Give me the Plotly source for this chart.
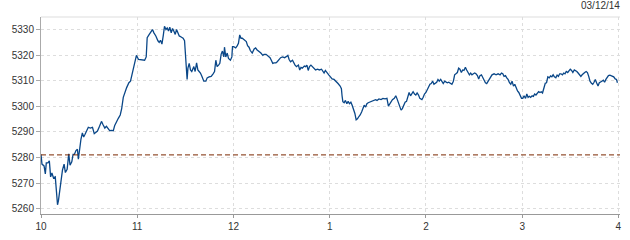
import plotly.graph_objects as go

# minutes after 10:00 and index level
minutes = [
    0, 0.6, 1.9, 2.7, 3.3, 4.3, 5.2, 6.0, 6.8, 7.8, 8.9, 9.7, 10.3, 10.9, 11.7, 12.6, 13.4, 14.4, 15.2, 16.3,
    17.3, 18.1, 19.2, 20.0, 20.8, 21.8, 22.7, 23.3, 24.1, 24.9, 25.8, 26.6, 27.4, 28.6, 29.5, 30.7, 32.1, 33.2,
    34.2, 35.2, 36.5, 37.7, 38.7, 39.8, 40.8, 41.8, 42.8, 43.9, 45.1, 45.9, 47.0, 48.2, 49.4, 50.3, 51.3, 52.3,
    53.4, 54.8, 55.8, 56.7, 57.9, 58.7, 59.5,
    60.8, 62.9, 64.6, 65.6, 66.2, 67.5, 68.7, 69.5, 70.4, 71.6, 72.9, 73.7, 74.5, 75.4, 76.2, 77.0, 77.9, 78.7,
    79.5, 80.3, 81.2, 82.0, 82.8, 83.7, 84.5, 85.3, 86.2, 87.4, 88.6, 89.5, 90.3, 91.1, 91.6, 92.4, 93.2, 94.0,
    95.3, 96.1, 97.0, 97.8, 98.6, 99.4, 100.3, 101.5, 102.8, 103.6, 104.8, 106.1, 107.3, 108.2, 109.0, 109.8,
    110.7, 111.5, 112.3, 113.1, 114.0, 114.4, 115.2, 116.1, 116.9, 118.1, 119.0, 119.4,
    120.2, 121.4, 122.3, 123.1, 123.9, 124.7, 125.5, 126.4, 127.2, 128.0, 128.8, 129.7, 130.5, 131.7, 132.9,
    133.8, 134.6, 135.8, 137.1, 138.3, 139.1, 140.3, 141.6, 142.8, 143.6, 144.5, 145.3, 146.5, 147.3, 148.6,
    149.4, 150.6, 151.9, 153.1, 153.9, 154.7, 155.6, 156.8, 157.6, 158.4, 159.3, 160.5, 161.3, 162.1, 162.9,
    164.2, 165.0, 165.8, 166.6, 167.4, 168.3, 169.1, 169.9, 171.2, 172.4, 173.6, 174.9, 175.7, 176.5, 177.3,
    178.6, 179.4,
    180.2, 181.5, 182.7, 184.0, 185.2, 186.5, 187.3, 187.7, 188.2, 189.0, 189.8, 190.7, 191.5, 192.3, 193.2,
    194.0, 194.8, 195.7, 196.5, 197.3, 198.2, 199.0, 199.9, 200.7, 201.5, 202.4, 203.2, 204.0, 204.9, 206.1,
    207.4, 208.6, 209.5, 210.7, 212.0, 213.2, 214.5, 215.7, 216.6, 217.4, 218.2, 219.1, 220.3, 221.2, 222.0,
    222.8, 223.7, 224.5, 225.3, 226.2, 227.0, 227.9, 228.7, 229.5, 230.4, 231.2, 232.0, 232.9, 233.7, 234.5,
    235.4, 236.2, 237.5, 238.3, 239.1, 240.0,
    240.8, 241.7, 242.5, 243.3, 244.2, 245.0, 245.8, 246.7, 247.5, 248.3, 249.2, 250.0, 250.8, 251.7, 252.5,
    253.3, 254.2, 255.4, 256.2, 257.1, 257.9, 258.7, 259.6, 260.4, 261.2, 262.1, 262.9, 263.7, 264.6, 265.4,
    266.2, 267.1, 267.9, 268.7, 269.6, 270.4, 271.2, 272.1, 272.9, 273.7, 274.6, 275.4, 276.2, 277.1, 277.9,
    278.7, 279.6, 280.4, 281.2, 282.5, 283.7, 285.0, 286.2, 287.1, 287.9, 288.7, 289.6, 290.4, 291.2, 292.1,
    292.9, 293.7, 294.6, 295.4, 296.2, 297.1, 297.9, 298.7, 299.6,
    300.4, 301.2, 302.1, 302.9, 303.7, 304.5, 305.3, 306.2, 307.0, 307.8, 308.6, 309.5, 310.3, 311.1, 311.9,
    312.7, 313.6, 314.4, 315.2, 316.0, 316.9, 317.7, 318.5, 319.3, 320.1, 321.0, 321.8, 322.6, 323.4, 324.2,
    325.1, 325.9, 326.7, 327.5, 328.4, 329.2, 330.0, 330.8, 331.6, 332.5, 333.3, 334.1, 334.9, 335.8, 336.6,
    337.4, 338.2, 339.0, 339.9, 340.7, 341.5, 342.3, 343.2, 344.0, 344.8, 345.6, 346.4, 347.3, 348.1, 348.9,
    349.7, 350.6, 351.4, 352.2, 353.0, 353.8, 354.7, 355.5, 356.3, 357.1, 358.0, 358.8, 359.4,
]

levels = [
    5281.2, 5277.4, 5276.7, 5273.6, 5277.9, 5277.9, 5278.7, 5272.4, 5273.9, 5272.0, 5272.4, 5265.1, 5261.5,
    5263.2, 5267.6, 5272.6, 5275.1, 5277.4, 5274.1, 5275.4, 5281.4, 5277.0, 5278.3, 5281.2, 5281.2, 5282.7,
    5283.2, 5279.3, 5284.0, 5287.1, 5289.6, 5288.0, 5289.0, 5290.5, 5291.8, 5291.5, 5291.8, 5289.3, 5290.0,
    5290.3, 5292.2, 5294.1, 5292.8, 5291.5, 5292.2, 5291.5, 5290.5, 5290.6, 5290.5, 5292.4, 5294.1, 5295.3,
    5296.6, 5299.1, 5303.5, 5305.4, 5307.3, 5309.2, 5309.8, 5312.3, 5316.1, 5318.0, 5319.9,
    5318.3, 5318.0, 5318.0, 5319.3, 5326.8, 5328.1, 5329.6, 5330.0, 5328.7, 5327.5, 5325.6, 5325.0, 5325.8,
    5324.3, 5327.5, 5331.3, 5330.0, 5330.6, 5329.4, 5330.9, 5328.7, 5330.4, 5329.4, 5328.1, 5330.0, 5328.7,
    5327.5, 5327.1, 5326.6, 5325.6, 5316.8, 5310.5, 5314.9, 5316.8, 5314.2, 5313.6, 5315.5, 5313.6, 5317.0,
    5314.2, 5313.6, 5313.0, 5311.7, 5309.8, 5309.8, 5311.1, 5311.5, 5311.7, 5312.7, 5313.6, 5318.0, 5315.5,
    5316.1, 5316.8, 5320.3, 5321.6, 5319.3, 5323.1, 5319.3, 5320.8, 5318.7, 5318.0, 5319.3, 5323.3,
    5323.3, 5322.8, 5323.6, 5324.6, 5327.9, 5326.6, 5326.6, 5326.1, 5325.8, 5325.3, 5323.7, 5323.1, 5321.8,
    5320.8, 5322.4, 5322.8, 5322.1, 5321.6, 5320.8, 5319.9, 5320.3, 5320.3, 5319.5, 5319.0, 5318.0, 5316.8,
    5317.0, 5317.0, 5317.4, 5318.3, 5319.0, 5319.3, 5319.0, 5319.5, 5319.9, 5318.3, 5317.4, 5318.0, 5316.8,
    5316.1, 5315.5, 5316.1, 5314.2, 5315.2, 5314.9, 5315.7, 5315.5, 5316.1, 5314.0, 5315.5, 5316.1, 5315.5,
    5314.9, 5314.2, 5314.5, 5314.2, 5314.5, 5313.6, 5313.0, 5314.0, 5313.2, 5312.3,
    5311.7, 5310.7, 5310.5, 5309.8, 5308.9, 5307.9, 5306.9, 5304.1, 5301.8, 5301.4, 5302.3, 5301.0, 5301.9,
    5301.0, 5301.6, 5300.4, 5299.1, 5297.2, 5294.7, 5295.1, 5296.0, 5296.6, 5297.8, 5299.1, 5300.4, 5299.7,
    5301.0, 5301.4, 5301.6, 5301.9, 5302.3, 5302.6, 5302.3, 5302.9, 5302.6, 5303.1, 5302.9, 5303.1, 5300.1,
    5301.0, 5301.9, 5302.6, 5303.1, 5304.1, 5302.9, 5301.6, 5299.4, 5298.5, 5299.1, 5300.4, 5301.6, 5301.9,
    5304.1, 5305.4, 5304.1, 5304.8, 5305.7, 5304.8, 5304.4, 5305.2, 5304.4, 5303.1, 5302.6, 5303.5, 5304.8,
    5305.4,
    5306.4, 5307.3, 5308.6, 5308.9, 5309.8, 5308.6, 5308.9, 5309.4, 5310.5, 5309.8, 5310.5, 5309.8, 5308.9,
    5309.8, 5309.4, 5309.2, 5309.4, 5308.9, 5308.6, 5309.8, 5312.3, 5312.7, 5313.2, 5314.9, 5314.5, 5313.2,
    5314.2, 5314.0, 5315.2, 5314.2, 5313.2, 5312.3, 5313.0, 5312.3, 5312.7, 5313.0, 5312.7, 5312.0, 5310.7,
    5312.0, 5312.3, 5311.1, 5309.8, 5309.2, 5308.9, 5309.8, 5310.7, 5311.7, 5312.3, 5312.7, 5312.3, 5312.7,
    5312.3, 5313.0, 5312.7, 5311.7, 5312.0, 5311.1, 5310.5, 5309.2, 5308.6, 5309.8, 5307.9, 5308.6, 5306.9,
    5306.0, 5305.4, 5304.4, 5303.1,
    5303.1, 5304.1, 5303.1, 5304.8, 5303.5, 5303.9, 5303.5, 5304.1, 5303.9, 5304.8, 5304.4, 5305.2, 5305.7,
    5305.4, 5305.7, 5305.2, 5307.3, 5309.0, 5309.2, 5311.5, 5311.1, 5311.9, 5311.5, 5312.3, 5311.5, 5311.1,
    5312.2, 5311.7, 5312.7, 5312.7, 5312.3, 5313.0, 5312.7, 5313.6, 5313.2, 5314.0, 5314.5, 5314.0, 5313.2,
    5314.2, 5314.0, 5313.6, 5313.0, 5312.3, 5311.7, 5312.3, 5313.0, 5313.2, 5313.6, 5313.2, 5311.7, 5309.8,
    5309.0, 5308.6, 5309.4, 5310.5, 5309.2, 5307.9, 5309.2, 5309.4, 5309.8, 5310.2, 5309.4, 5310.5, 5311.1,
    5312.0, 5312.2, 5312.0, 5311.7, 5311.5, 5310.7, 5310.5, 5309.2,
]

prev_close = 5281.0
hour_ticks = [0, 60, 120, 180, 240, 300, 360]
hour_labels = ["10", "11", "12", "1", "2", "3", "4"]
y_ticks = [5260, 5270, 5280, 5290, 5300, 5310, 5320, 5330]
date_label = "03/12/14"

font = dict(family="Liberation Sans, Arial, sans-serif", size=10, color="#333333")

fig = go.Figure()
fig.add_trace(go.Scatter(
    x=minutes, y=levels, mode="lines",
    line=dict(color="#0a4788", width=1.3),
    hoverinfo="skip", showlegend=False,
))

fig.update_layout(
    width=630, height=240,
    margin=dict(l=41, r=8, t=17, b=20),
    paper_bgcolor="white", plot_bgcolor="white",
    font=font,
    showlegend=False,
    xaxis=dict(
        range=[0, 361], tickvals=hour_ticks, ticktext=hour_labels,
        showgrid=True, gridcolor="#dddddd", griddash="3px,3px", gridwidth=1,
        zeroline=False, showline=True, linecolor="#999999", linewidth=1,
        ticks="outside", ticklen=3, tickcolor="#999999", tickfont=font,
    ),
    yaxis=dict(
        range=[5257.9, 5334.9], tickvals=y_ticks,
        showgrid=True, gridcolor="#dddddd", griddash="3px,3px", gridwidth=1,
        zeroline=False, showline=True, linecolor="#aaaaaa", linewidth=1,
        ticks="outside", ticklen=4, tickcolor="#aaaaaa", tickfont=font,
    ),
    shapes=[
        dict(type="line", xref="paper", yref="y", x0=0, x1=1, y0=prev_close, y1=prev_close,
             line=dict(color="#7a2800", width=1, dash="5px,3px")),
        dict(type="line", xref="paper", yref="paper", x0=0, x1=1, y0=1, y1=1,
             line=dict(color="#dddddd", width=1)),
    ],
    annotations=[
        dict(text=date_label, xref="paper", yref="paper", x=1.0034, y=1.06,
             xanchor="right", yanchor="middle", showarrow=False, font=font),
    ],
)

fig.write_html("out.html")
